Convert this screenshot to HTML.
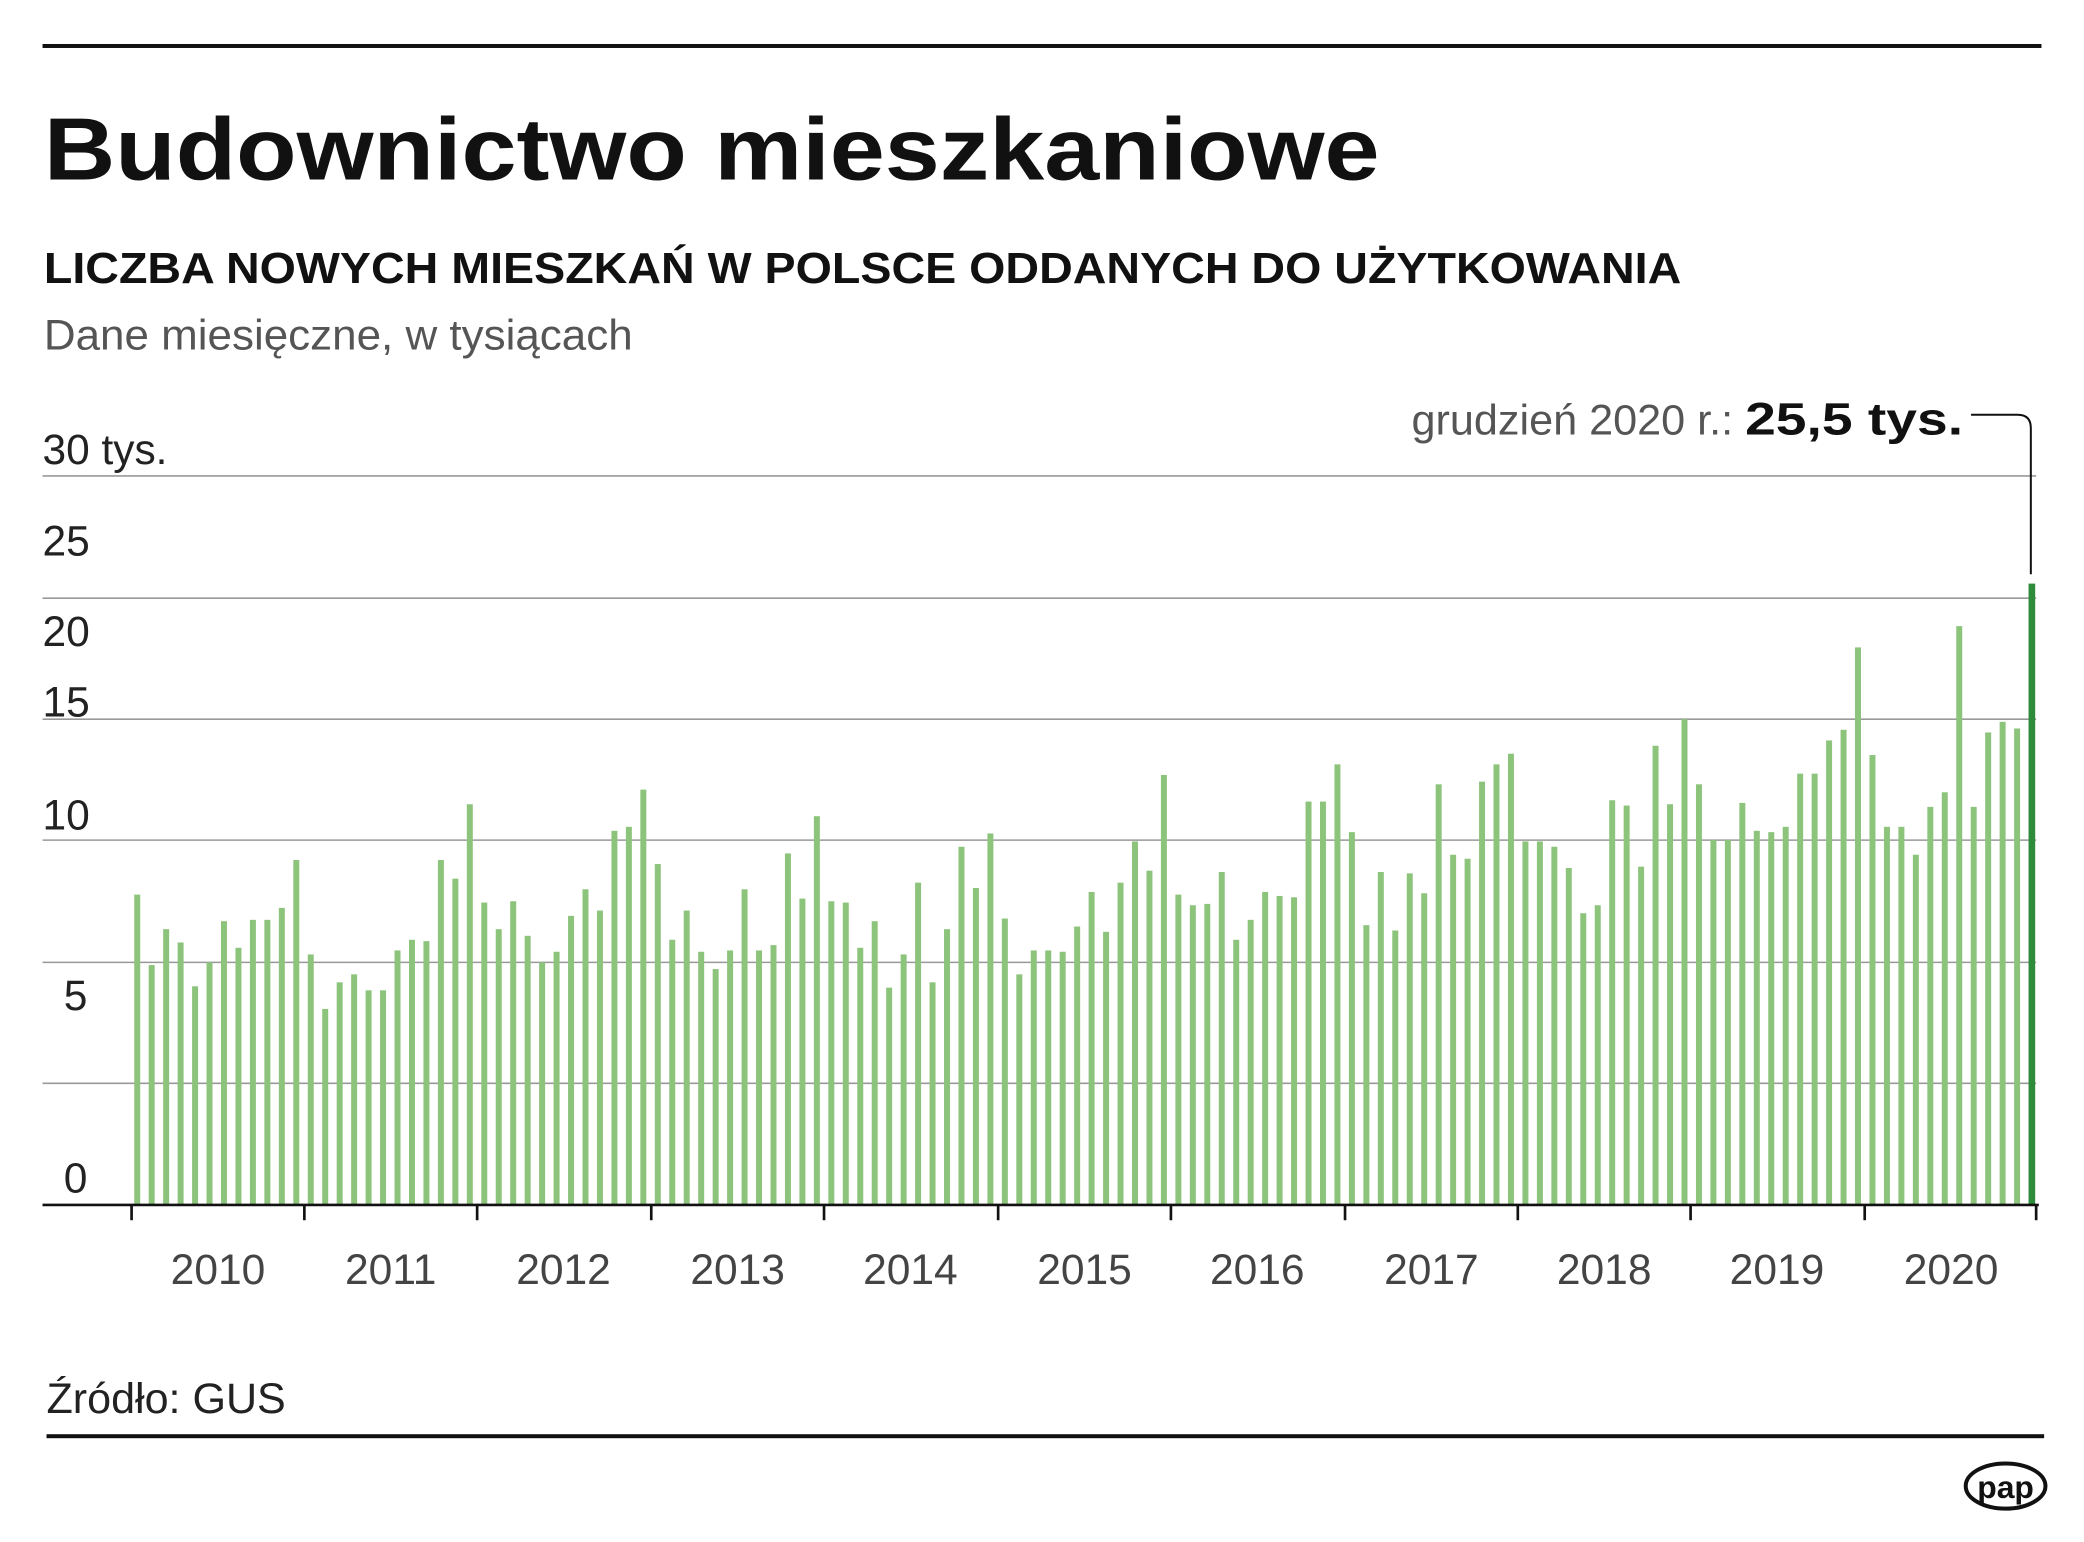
<!DOCTYPE html>
<html><head><meta charset="utf-8"><style>
html,body{margin:0;padding:0;background:#fff;}
svg{display:block;}
text{font-family:"Liberation Sans",sans-serif;}
</style></head><body>
<svg width="2084" height="1542" viewBox="0 0 1568 1160" xmlns="http://www.w3.org/2000/svg">
<rect width="1568" height="1160" fill="#fff"/>
<rect x="32" y="33" width="1504" height="3" fill="#111"/>
<text x="33" y="135" font-size="66" font-weight="bold" fill="#111" textLength="1005" lengthAdjust="spacingAndGlyphs">Budownictwo mieszkaniowe</text>
<text x="33" y="213" font-size="33" font-weight="bold" fill="#111" textLength="1232" lengthAdjust="spacingAndGlyphs">LICZBA NOWYCH MIESZKAŃ W POLSCE ODDANYCH DO UŻYTKOWANIA</text>
<text x="33" y="263" font-size="32" fill="#555" textLength="443" lengthAdjust="spacingAndGlyphs">Dane miesięczne, w tysiącach</text>
<g stroke="#999" stroke-width="1.2">
<line x1="32" y1="358" x2="1532" y2="358"/>
<line x1="32" y1="450" x2="1532" y2="450"/>
<line x1="32" y1="541" x2="1532" y2="541"/>
<line x1="32" y1="632" x2="1532" y2="632"/>
<line x1="32" y1="724" x2="1532" y2="724"/>
<line x1="32" y1="815" x2="1532" y2="815"/>
</g>
<g font-size="32" fill="#222">
<text x="32" y="349" textLength="94" lengthAdjust="spacingAndGlyphs">30 tys.</text>
<text x="32" y="418">25</text>
<text x="32" y="486">20</text>
<text x="32" y="539">15</text>
<text x="32" y="624">10</text>
<text x="48" y="760">5</text>
<text x="48" y="897">0</text>
</g>
<g id="bars"></g>
<line x1="32" y1="906.5" x2="1534" y2="906.5" stroke="#111" stroke-width="2"/>
<g stroke="#111" stroke-width="2">
<line x1="99" y1="906" x2="99" y2="918"/><line x1="229" y1="906" x2="229" y2="918"/><line x1="359" y1="906" x2="359" y2="918"/><line x1="490" y1="906" x2="490" y2="918"/><line x1="620" y1="906" x2="620" y2="918"/><line x1="751" y1="906" x2="751" y2="918"/><line x1="881" y1="906" x2="881" y2="918"/><line x1="1012" y1="906" x2="1012" y2="918"/><line x1="1142" y1="906" x2="1142" y2="918"/><line x1="1272" y1="906" x2="1272" y2="918"/><line x1="1403" y1="906" x2="1403" y2="918"/><line x1="1532" y1="906" x2="1532" y2="918"/>
</g>
<g font-size="32" fill="#444" text-anchor="middle">
<text x="164" y="966">2010</text><text x="294" y="966">2011</text><text x="424" y="966">2012</text><text x="555" y="966">2013</text><text x="685" y="966">2014</text><text x="816" y="966">2015</text><text x="946" y="966">2016</text><text x="1077" y="966">2017</text><text x="1207" y="966">2018</text><text x="1337" y="966">2019</text><text x="1468" y="966">2020</text>
</g>
<text x="1062" y="327" font-size="32" fill="#555" textLength="242" lengthAdjust="spacingAndGlyphs">grudzień 2020 r.:</text>
<text x="1313" y="327" font-size="34" font-weight="bold" fill="#111" textLength="164" lengthAdjust="spacingAndGlyphs">25,5 tys.</text>
<path d="M1483 312 H1518 Q1528 312 1528 322 V432" fill="none" stroke="#111" stroke-width="1.5"/>
<text x="35" y="1063" font-size="32" fill="#222" textLength="180" lengthAdjust="spacingAndGlyphs">Źródło: GUS</text>
<rect x="35" y="1079" width="1503" height="3" fill="#111"/>
<ellipse cx="1509" cy="1118" rx="30" ry="17" fill="#fff" stroke="#111" stroke-width="3"/>
<text x="1509" y="1127" font-size="24" font-weight="bold" fill="#111" text-anchor="middle">pap</text>
</svg>
<script>
var tops=[673,726,699,709,742,724,693,713,692,692,683,647,
718,759,739,733,745,745,715,707,708,647,661,605,
679,699,678,704,724,716,689,669,685,625,622,594,
650,707,685,716,729,715,669,715,711,642,676,614,
678,679,713,693,743,718,664,739,699,637,668,627,
691,733,715,715,716,697,671,701,664,633,655,583,
673,681,680,656,707,692,671,674,675,603,603,575,
626,696,656,700,657,672,590,643,646,588,575,567,
633,633,637,653,687,681,602,606,652,561,605,541,
590,632,632,604,625,626,622,582,582,557,549,487,
568,622,622,643,607,596,471,607,551,543,548,439];
var g=document.getElementById('bars'),s='';
for(var k=0;k<tops.length;k++){var x=101+k*10.88,last=k==tops.length-1;
s+='<rect x="'+x.toFixed(2)+'" y="'+tops[k]+'" width="'+(last?5:4.5)+'" height="'+(906-tops[k])+'" fill="'+(last?'#2e8b3a':'#8dc47c')+'"/>';}
g.innerHTML=s;
</script>
</body></html>
